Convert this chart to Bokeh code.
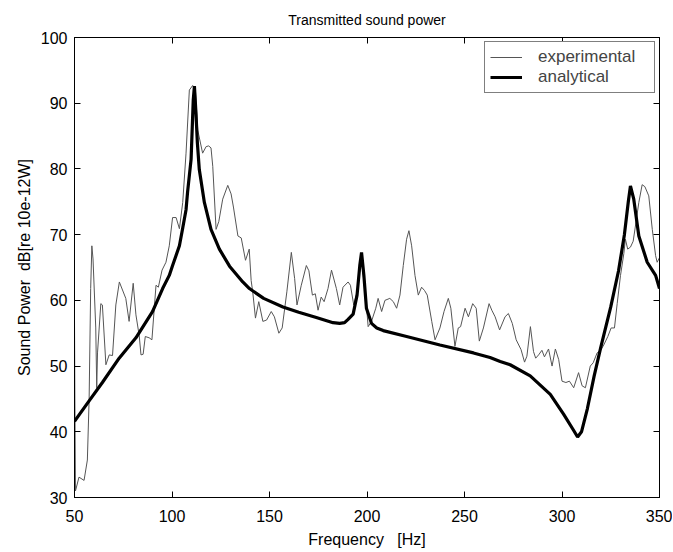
from bokeh.plotting import figure
from bokeh.models import LinearAxis, Range1d, FixedTicker, Legend, LegendItem, CustomJSTickFormatter
from bokeh.embed import file_html
from bokeh.resources import INLINE

title_text = "Transmitted sound power"
x_label = "Frequency\u00a0\u00a0\u00a0[Hz]"
y_label = "Sound Power\u00a0\u00a0dB[re 10e-12W]"
x_ticks = [50, 100, 150, 200, 250, 300, 350]
y_ticks = [30, 40, 50, 60, 70, 80, 90, 100]

exp_x = [50.0, 50.2, 50.5, 52.3, 54.9, 56.6, 57.5, 58.3, 58.9, 59.5, 60.9, 61.4, 61.8,
         63.5, 64.3, 66.1, 67.8, 69.5, 71.2, 73.0, 76.3, 78.0, 80.1, 81.5, 83.2, 84.1,
         85.2, 86.3, 88.3, 89.7, 91.8, 93.0, 94.9, 96.9, 98.6, 100.3, 102.1, 103.8,
         105.5, 107.2, 108.9, 110.6, 112.0, 113.2, 115.7, 117.5, 118.8, 120.0, 120.9,
         122.6, 124.0, 126.0, 128.6, 130.3, 131.5, 133.8, 135.5, 137.7, 139.6, 140.6,
         141.4, 142.8, 144.5, 146.6, 148.5, 150.9, 152.5, 154.8, 156.5, 158.9, 161.2,
         162.9, 164.1, 166.3, 168.9, 170.2, 172.0, 173.5, 174.9, 176.5, 178.0, 180.0,
         181.8, 184.3, 186.0, 187.7, 190.3, 191.5, 193.2, 194.9, 196.7, 197.6, 199.4,
         200.6, 202.3, 204.5, 205.7, 207.5, 209.2, 211.7, 213.5, 215.2, 216.9, 218.6,
         220.3, 221.5, 222.9, 224.6, 226.3, 228.0, 229.5, 230.9, 233.2, 234.9, 237.4,
         239.5, 241.7, 243.0, 245.1, 246.8, 248.0, 250.3, 252.0, 254.2, 256.0, 257.6,
         259.7, 262.6, 264.0, 265.7, 268.0, 270.8, 272.5, 274.5, 276.5, 279.0, 280.8,
         282.0, 283.8, 285.4, 286.5, 288.0, 289.7, 291.0, 293.1, 294.9, 296.6, 298.3,
         300.0, 302.0, 303.8, 306.0, 308.5, 310.3, 312.0, 314.5, 316.0, 318.0, 320.0,
         321.4, 323.5, 325.2, 326.9, 328.3, 330.0, 331.7, 332.5, 333.7, 335.1, 336.5,
         337.5, 339.4, 341.1, 342.5, 344.5, 346.3, 348.0, 348.8, 350.0]
exp_y = [57.0, 45.0, 31.0, 33.1, 32.6, 35.7, 45.0, 61.8, 68.3, 66.3, 55.8, 46.7, 52.0,
         59.5, 59.3, 50.2, 51.7, 51.6, 59.3, 62.8, 60.3, 56.8, 62.6, 57.8, 54.6, 51.7,
         51.8, 54.5, 54.3, 54.0, 62.3, 62.0, 64.6, 65.8, 68.3, 72.6, 72.6, 70.9,
         74.9, 82.4, 92.0, 92.7, 92.0, 85.9, 82.4, 83.4, 83.5, 83.2, 80.4,
         70.8, 72.0, 75.4, 77.5, 76.2, 74.2, 69.8, 69.5, 66.1, 67.8, 63.0,
         61.3, 57.3, 59.8, 56.8, 57.0, 58.3, 57.5, 55.0, 55.8, 61.3, 67.3,
         63.3, 59.3, 62.3, 65.3, 64.5, 60.8, 61.0, 58.5, 60.5, 59.8, 61.8,
         64.6, 61.8, 59.3, 62.0, 62.8, 62.3, 59.3, 61.3, 65.3, 65.0, 60.3,
         56.0, 56.8, 58.8, 60.3, 58.3, 60.0, 60.3, 59.8, 58.8, 60.8, 65.3,
         69.3, 70.6, 68.3, 63.8, 60.8, 62.0, 61.5, 60.8, 56.8, 54.0, 55.8,
         58.3, 60.3, 58.8, 53.0, 55.8, 56.0, 58.8, 57.5, 59.5, 58.8, 53.8,
         55.8, 59.5, 58.5, 57.5, 55.5, 57.5, 58.0, 56.5, 54.0, 52.5, 50.6,
         51.5, 56.0, 52.2, 51.2, 51.7, 52.4, 51.4, 52.6, 50.0, 52.6, 51.0,
         47.7, 47.5, 47.7, 46.7, 49.0, 47.0, 46.7, 50.0, 50.5, 52.0, 52.5,
         53.2, 54.5, 55.8, 55.8, 59.5, 63.8, 67.1, 69.3, 67.8, 68.1, 69.0,
         71.0, 74.9, 77.6, 77.3, 75.9, 70.8, 66.8, 65.8, 66.5]

ana_x = [50.0, 57.5, 64.3, 72.9, 81.5, 90.0, 95.2, 98.6, 100.3, 103.8, 105.5, 107.2,
         108.0, 109.8, 110.9, 111.5, 112.3, 113.0, 114.0, 116.6, 120.0, 124.3, 129.5,
         136.3, 139.7, 147.0, 156.9, 165.0, 174.0, 182.6, 186.0, 188.5, 190.3, 192.9,
         194.9, 196.3, 197.2, 198.4, 199.7, 202.3, 205.0, 208.3, 220.3, 237.4, 254.6,
         263.1, 268.3, 273.4, 283.7, 294.0, 300.8, 306.0, 308.0, 310.0, 313.0, 316.5,
         320.0, 325.0, 329.0, 332.0, 334.0, 335.1, 336.8, 339.4, 343.7, 348.0, 350.0]
ana_y = [41.6, 44.7, 47.5, 51.2, 54.3, 58.3, 61.8, 63.8, 65.3, 68.3, 71.0, 73.8,
         76.5, 81.5, 90.5, 92.6, 88.4, 84.0, 79.9, 74.9, 70.8, 67.8, 65.2,
         62.8, 61.8, 60.3, 59.0, 58.2, 57.4, 56.6, 56.5, 56.6, 57.1, 57.9,
         60.8, 65.3, 67.3, 63.8, 58.8, 56.5, 55.8, 55.4, 54.5, 53.2, 52.0,
         51.3, 50.7, 50.2, 48.5, 45.7, 42.7, 40.2, 39.2, 40.0, 43.5, 48.5,
         53.0, 59.0, 64.5, 70.0, 75.0, 77.4, 75.4, 69.8, 65.8, 63.8, 61.8]

FONT = "Liberation Sans"

p = figure(width=672, height=550, output_backend="svg", toolbar_location=None,
           x_range=Range1d(50, 350), y_range=Range1d(30, 100),
           min_border_left=74, min_border_right=13, min_border_top=37, min_border_bottom=50,
           title=title_text)
p.title.align = "center"
p.title.text_font = FONT
p.title.text_font_size = "14px"
p.title.text_font_style = "normal"
p.title.text_color = "black"
p.title.standoff = 19
p.outline_line_color = "black"
p.outline_line_width = 1
p.grid.visible = False
p.background_fill_color = "white"
p.border_fill_color = "white"

for ax, ticks in ((p.xaxis[0], x_ticks), (p.yaxis[0], y_ticks)):
    ax.ticker = FixedTicker(ticks=ticks)
    ax.major_tick_in = 6
    ax.major_tick_out = 0
    ax.minor_tick_line_color = None
    ax.axis_line_color = "black"
    ax.major_tick_line_color = "black"
    ax.major_label_text_font = FONT
    ax.major_label_text_font_size = "16px"
    ax.major_label_text_color = "black"
    ax.axis_label_text_font = FONT
    ax.axis_label_text_font_size = "16px"
    ax.axis_label_text_font_style = "normal"
    ax.axis_label_text_color = "black"

p.xaxis[0].axis_label = x_label
p.yaxis[0].axis_label = y_label
p.xaxis[0].major_label_standoff = 12
p.xaxis[0].axis_label_standoff = 6
p.yaxis[0].major_label_standoff = 7
p.yaxis[0].axis_label_standoff = 5

for loc, ticks in (("right", y_ticks), ("above", x_ticks)):
    ax = LinearAxis(ticker=FixedTicker(ticks=ticks),
                    formatter=CustomJSTickFormatter(code="return ''"))
    ax.major_tick_in = 6
    ax.major_tick_out = 0
    ax.minor_tick_line_color = None
    ax.axis_line_color = "black"
    ax.major_label_standoff = 0
    p.add_layout(ax, loc)

r_exp = p.line(exp_x, exp_y, line_color="#555555", line_width=1)
r_ana = p.line(ana_x, ana_y, line_color="black", line_width=3.2)

legend = Legend(items=[LegendItem(label="experimental", renderers=[r_exp]),
                       LegendItem(label="analytical", renderers=[r_ana])],
                location="top_right")
legend.margin = 4
legend.padding = 5
legend.spacing = 0
legend.glyph_width = 32
legend.label_standoff = 16
legend.label_width = 111
legend.label_text_font = FONT
legend.label_text_font_size = "17px"
legend.border_line_color = "black"
legend.border_line_width = 1
legend.background_fill_alpha = 1
p.add_layout(legend, "center")

open("out.html", "w").write(file_html(p, INLINE))
